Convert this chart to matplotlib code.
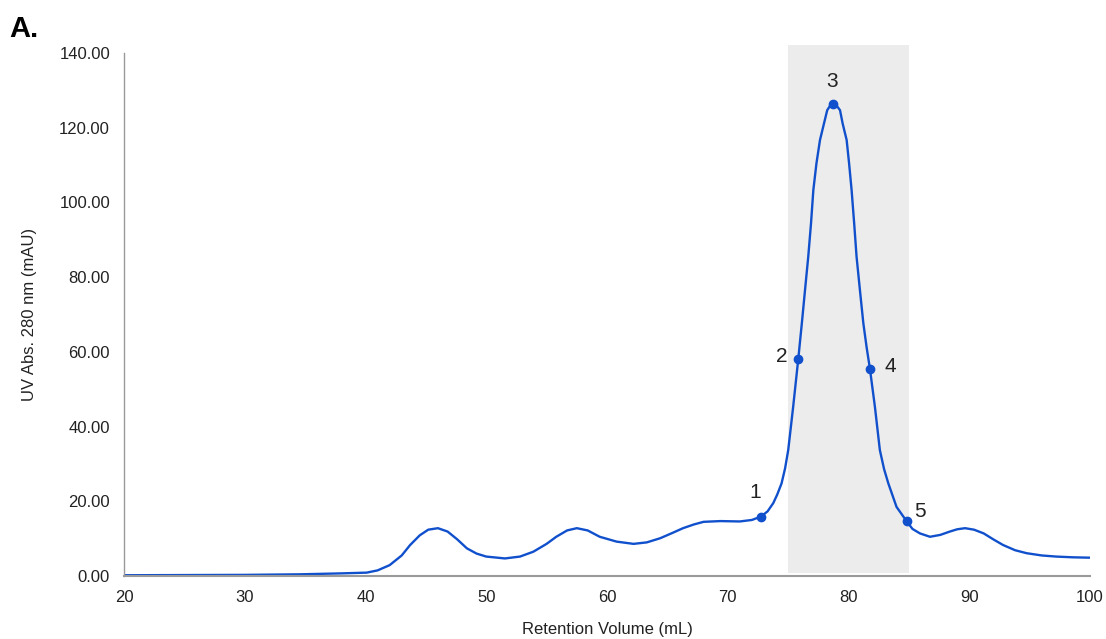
import matplotlib
matplotlib.use("Agg")
import matplotlib.pyplot as plt
from matplotlib.patches import Rectangle

plt.rcParams['font.family'] = ['Liberation Sans', 'DejaVu Sans']

# 色谱曲线
volume = [20, 30, 34.6, 38, 40.1, 41, 42.0, 43, 43.7, 44.5, 45.2, 46.0, 46.8, 47.6, 48.4,
          49.2, 50.0, 51.55, 52.8, 53.9, 55.0, 55.8, 56.7, 57.5, 58.4, 59.4, 60.8, 62.2,
          63.3, 64.4, 65.4, 66.3, 67.2, 68.0, 69.4, 71.0, 72.0, 72.75, 73.3, 73.77, 74.1,
          74.46, 74.75, 75.01, 75.42, 75.84, 76.14, 76.4, 76.67, 76.9, 77.09, 77.35, 77.64,
          77.97, 78.24, 78.5, 78.74, 79.0, 79.3, 79.52, 79.85, 80.05, 80.26, 80.47, 80.67,
          80.95, 81.23, 81.5, 81.78, 82.19, 82.6, 82.95, 83.3, 83.98, 84.81, 85.3, 85.92,
          86.75, 87.6, 88.4, 89.0, 89.65, 90.4, 91.2, 92.0, 92.8, 93.8, 94.76, 96.0, 97.2,
          98.6, 100]
absorb = [0.2, 0.3, 0.45, 0.7, 0.9, 1.5, 2.9, 5.5, 8.3, 10.9, 12.4, 12.8, 11.9, 9.8, 7.4,
          6.0, 5.2, 4.7, 5.2, 6.5, 8.6, 10.5, 12.2, 12.8, 12.2, 10.5, 9.2, 8.6,
          9.0, 10.1, 11.5, 12.8, 13.8, 14.5, 14.7, 14.6, 15.0, 15.9, 17.3, 19.5, 21.8,
          24.8, 28.8, 33.7, 45.3, 58.0, 67.7, 76.5, 85.5, 94.5, 103.3, 110.5, 116.7,
          121.1, 124.7, 126.0, 126.3, 126.0, 124.7, 121.1, 116.7, 110.5, 103.3, 94.5, 85.5,
          76.5, 67.7, 61.3, 55.4, 45.3, 33.7, 28.6, 24.8, 18.5, 14.7, 12.6, 11.4,
          10.5, 11.0, 11.9, 12.5, 12.8, 12.4, 11.4, 9.8, 8.3, 6.9, 6.1, 5.5, 5.2,
          5.0, 4.9]

# 取样点
frac_labels = ["1", "2", "3", "4", "5"]
frac_x = [72.75, 75.84, 78.74, 81.78, 84.81]
frac_y = [15.9, 58.0, 126.3, 55.4, 14.7]
label_offsets = [(-4, 17), (-12, 2), (-1, 16), (15, 2), (10, 7)]

# 收集区间
pool_range = (75, 85)

line_color = '#1150cc'
text_color = '#222222'

fig = plt.figure(figsize=(11.06, 6.39), dpi=100)
ax = fig.add_axes([0.1121, 0.0986, 0.8734, 0.8184])

ax.add_patch(Rectangle((pool_range[0], 0.7), pool_range[1] - pool_range[0], 141.4,
                       facecolor='#ececec', edgecolor='none', clip_on=False, zorder=0))
ax.plot(volume, absorb, color=line_color, linewidth=1.7, zorder=2)
ax.plot(frac_x, frac_y, 'o', color=line_color, markersize=6, zorder=3)
for lab, x, y, off in zip(frac_labels, frac_x, frac_y, label_offsets):
    ax.annotate(lab, (x, y), xytext=off, textcoords='offset points',
                ha='center', va='center', fontsize=15, color=text_color)

ax.set_xlim(20, 100)
ax.set_ylim(0, 140)
ax.set_xticks(range(20, 101, 10))
ax.set_yticks(range(0, 141, 20))
ax.set_yticklabels([f"{v:.2f}" for v in range(0, 141, 20)])
ax.tick_params(length=0, labelsize=12, colors=text_color)
ax.tick_params(axis='y', pad=10)
ax.tick_params(axis='x', pad=10)

for s in ['top', 'right']:
    ax.spines[s].set_visible(False)
ax.spines['left'].set_color('#9a9a9a')
ax.spines['left'].set_linewidth(1.0)
ax.spines['bottom'].set_color('#9a9a9a')
ax.spines['bottom'].set_linewidth(1.5)

ax.set_xlabel("Retention Volume (mL)", fontsize=12, color=text_color, labelpad=12)
ax.set_ylabel("UV Abs. 280 nm (mAU)", fontsize=12, color=text_color, labelpad=16)

fig.text(0.008, 0.976, "A.", fontsize=21, fontweight='bold', color='black', va='top', ha='left')

fig.savefig("out.png", dpi=100)
